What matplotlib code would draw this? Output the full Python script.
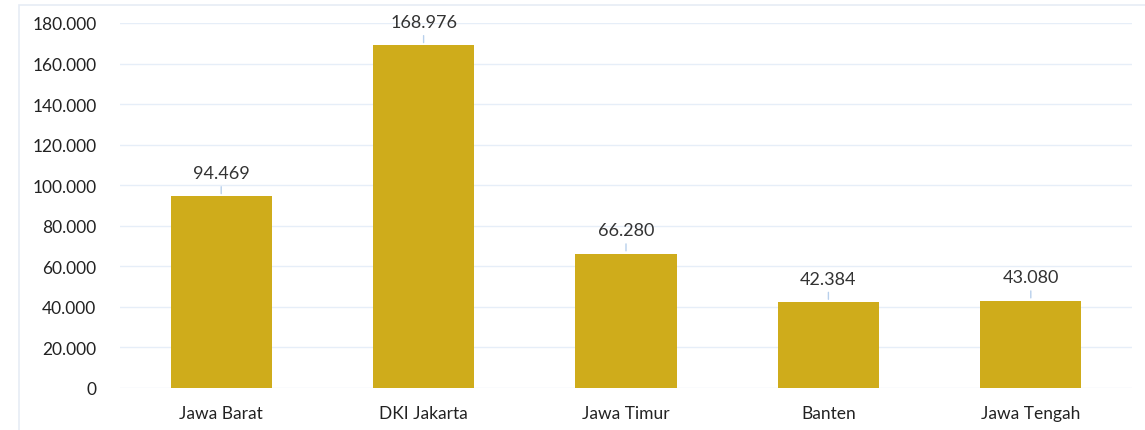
import matplotlib.pyplot as plt
from matplotlib.patches import Rectangle
from matplotlib.ticker import FuncFormatter

provinces = ["Jawa Barat", "DKI Jakarta", "Jawa Timur", "Banten", "Jawa Tengah"]
values = [94469, 168976, 66280, 42384, 43080]

plt.rcParams['font.family'] = ['Lato', 'DejaVu Sans']

fig = plt.figure(figsize=(11.45, 4.31), dpi=100)
ax = fig.add_axes([120/1145, 1 - 389/431, 1012/1145, 365/431])

x = range(len(provinces))
ax.bar(x, values, width=0.5, color="#cfac1b", zorder=3)

for i, v in enumerate(values):
    lbl = f"{v:,}".replace(",", ".")
    ax.annotate(lbl, xy=(i, v), xytext=(0, 11), textcoords="offset points",
                ha="center", va="bottom", fontsize=13, color="#333333")
    ax.annotate("", xy=(i, v), xytext=(0, 9), textcoords="offset points",
                arrowprops=dict(arrowstyle="-", color="#b8d0ec", lw=1))

ax.set_xlim(-0.5, len(provinces) - 0.5)
ax.set_ylim(0, 180000)
ax.set_yticks(range(0, 180001, 20000))
ax.yaxis.set_major_formatter(FuncFormatter(lambda v, p: f"{int(v):,}".replace(",", ".")))
ax.set_xticks(list(x))
ax.set_xticklabels(provinces)
ax.grid(axis="y", color="#e6eef8", lw=1, zorder=0)
for s in ax.spines.values():
    s.set_visible(False)
ax.tick_params(axis="both", length=0, labelsize=12.5, colors="#222222")
ax.tick_params(axis="y", pad=17)
ax.tick_params(axis="x", pad=12)

fig.patches.append(Rectangle((19/1145, -0.1), 1.2, 1 - 6/431 + 0.1,
                             transform=fig.transFigure, fill=False,
                             edgecolor="#e6ecf5", lw=1.2))

fig.savefig("out.png", dpi=100)
